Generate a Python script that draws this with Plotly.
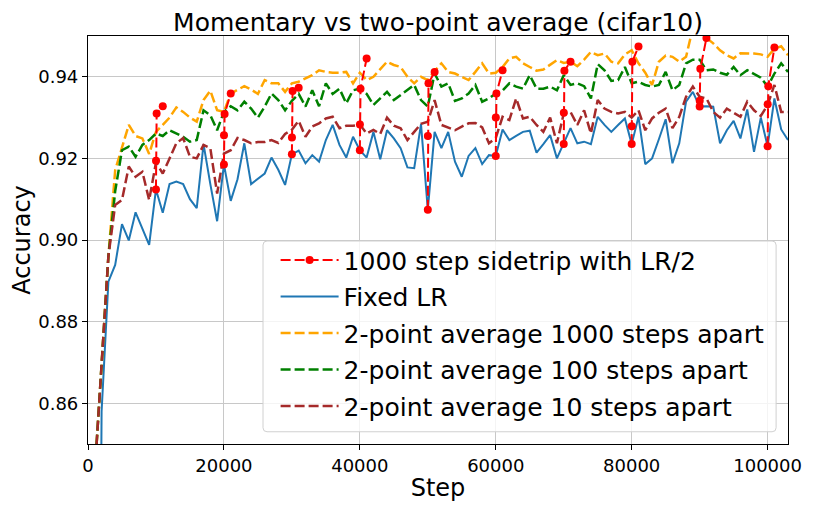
import plotly.graph_objects as go

# step index k -> step = k*1000
steps = [k * 1000 for k in range(1, 104)]

fixed_lr = [
    0.600, 0.858, 0.8898, 0.8939, 0.9039, 0.8999, 0.9068, 0.9028, 0.8988, 0.9124,
    0.9067, 0.9137, 0.9143, 0.9137, 0.9100, 0.9078, 0.9235, 0.9137, 0.9046, 0.9185,
    0.9096, 0.9149, 0.9237, 0.9137, 0.9150, 0.9163, 0.9202, 0.9172, 0.9135, 0.9210,
    0.9219, 0.9188, 0.9208, 0.9192, 0.9245, 0.9282, 0.9233, 0.9202, 0.9253, 0.9220,
    0.9202, 0.9265, 0.9198, 0.9269, 0.9249, 0.9225, 0.9178, 0.9176, 0.9284, 0.9074,
    0.9265, 0.9225, 0.9265, 0.9192, 0.9155, 0.9206, 0.9225, 0.9186, 0.9208, 0.9206,
    0.9271, 0.9245, 0.9255, 0.9265, 0.9268, 0.9214, 0.9235, 0.9257, 0.9200, 0.9235,
    0.9274, 0.9237, 0.9241, 0.9235, 0.9302, 0.9282, 0.9265, 0.9282, 0.9298, 0.9235,
    0.9302, 0.9186, 0.9200, 0.9247, 0.9296, 0.9188, 0.9237, 0.9339, 0.9363, 0.9327,
    0.9328, 0.9327, 0.9237, 0.9269, 0.9292, 0.9249, 0.9320, 0.9216, 0.9300, 0.9230,
    0.9347, 0.9271, 0.9245,
]

avg_1000 = [
    0.843, 0.870, 0.896, 0.9171, 0.9229, 0.9282, 0.9255, 0.9249, 0.9211, 0.9265,
    0.9282, 0.9300, 0.9325, 0.9314, 0.9300, 0.9290, 0.9343, 0.9366, 0.9318, 0.9314,
    0.9359, 0.9367, 0.9377, 0.9369, 0.9358, 0.9392, 0.9384, 0.9384, 0.9363, 0.9384,
    0.9388, 0.9396, 0.9404, 0.9416, 0.9412, 0.9410, 0.9410, 0.9412, 0.9384, 0.9410,
    0.9392, 0.9400, 0.9418, 0.9437, 0.9429, 0.9424, 0.9400, 0.9384, 0.9400, 0.9392,
    0.9414, 0.9433, 0.9412, 0.9408, 0.9400, 0.9392, 0.9412, 0.9433, 0.9408, 0.9410,
    0.9424, 0.9445, 0.9449, 0.9433, 0.9424, 0.9415, 0.9418, 0.9429, 0.9441, 0.9434,
    0.9437, 0.9426, 0.9442, 0.9461, 0.9453, 0.9457, 0.9437, 0.9433, 0.9455, 0.9465,
    0.9433, 0.9410, 0.9380, 0.9437, 0.9452, 0.9449, 0.9437, 0.9449, 0.9520, 0.9525,
    0.9495, 0.9482, 0.9465, 0.9453, 0.9445, 0.9458, 0.9458, 0.9457, 0.9455, 0.9449,
    0.9469, 0.9475, 0.9453,
]

avg_100 = [
    0.843, 0.870, 0.896, 0.9120, 0.9220, 0.9229, 0.9204, 0.9233, 0.9245, 0.9261,
    0.9255, 0.9269, 0.9261, 0.9253, 0.9241, 0.9245, 0.9318, 0.9306, 0.9269, 0.9314,
    0.9328, 0.9318, 0.9339, 0.9322, 0.9300, 0.9327, 0.9359, 0.9343, 0.9318, 0.9341,
    0.9358, 0.9327, 0.9367, 0.9328, 0.9384, 0.9358, 0.9371, 0.9335, 0.9367, 0.9371,
    0.9358, 0.9331, 0.9347, 0.9363, 0.9343, 0.9355, 0.9367, 0.9380, 0.9343, 0.9327,
    0.9408, 0.9376, 0.9384, 0.9341, 0.9347, 0.9359, 0.9380, 0.9339, 0.9347, 0.9359,
    0.9366, 0.9384, 0.9376, 0.9371, 0.9404, 0.9371, 0.9371, 0.9376, 0.9367, 0.9404,
    0.9380, 0.9384, 0.9377, 0.9347, 0.9431, 0.9416, 0.9390, 0.9392, 0.9424, 0.9384,
    0.9388, 0.9380, 0.9376, 0.9380, 0.9412, 0.9367, 0.9380, 0.9433, 0.9442, 0.9442,
    0.9416, 0.9418, 0.9410, 0.9405, 0.9424, 0.9404, 0.9416, 0.9408, 0.9398, 0.9376,
    0.9408, 0.9433, 0.9412,
]

avg_10 = [
    0.843, 0.870, 0.896, 0.9086, 0.9098, 0.9180, 0.9155, 0.9167, 0.9098, 0.9190,
    0.9163, 0.9200, 0.9237, 0.9250, 0.9204, 0.9200, 0.9233, 0.9225, 0.9114, 0.9212,
    0.9220, 0.9250, 0.9245, 0.9237, 0.9240, 0.9240, 0.9245, 0.9238, 0.9260, 0.9270,
    0.9292, 0.9253, 0.9278, 0.9286, 0.9298, 0.9302, 0.9274, 0.9280, 0.9280, 0.9283,
    0.9261, 0.9270, 0.9260, 0.9300, 0.9280, 0.9274, 0.9245, 0.9265, 0.9285, 0.9290,
    0.9343, 0.9282, 0.9276, 0.9269, 0.9278, 0.9286, 0.9287, 0.9276, 0.9237, 0.9250,
    0.9302, 0.9294, 0.9347, 0.9298, 0.9302, 0.9282, 0.9265, 0.9300, 0.9237, 0.9310,
    0.9314, 0.9282, 0.9318, 0.9261, 0.9343, 0.9322, 0.9314, 0.9310, 0.9314, 0.9300,
    0.9318, 0.9269, 0.9298, 0.9312, 0.9322, 0.9274, 0.9302, 0.9351, 0.9376, 0.9351,
    0.9347, 0.9314, 0.9300, 0.9322, 0.9312, 0.9302, 0.9339, 0.9318, 0.9304, 0.9331,
    0.9380, 0.9314, 0.9314,
]

sidetrip_starts = [10000, 20000, 30000, 40000, 50000, 60000, 70000, 80000, 90000, 100000]
sidetrip_offsets = [0, 10, 100, 1000]
sidetrip_values = [
    [0.9124, 0.9194, 0.9310, 0.9328],
    [0.9185, 0.9257, 0.9309, 0.9359],
    [0.9210, 0.9251, 0.9365, 0.9373],
    [0.9220, 0.9283, 0.9371, 0.9445],
    [0.9074, 0.9255, 0.9384, 0.9412],
    [0.9206, 0.9300, 0.9359, 0.9416],
    [0.9235, 0.9312, 0.9415, 0.9437],
    [0.9235, 0.9279, 0.9437, 0.9474],
    [0.9327, 0.9341, 0.9420, 0.9495],
    [0.9230, 0.9333, 0.9377, 0.9472],
]

x_ticks = [0, 20000, 40000, 60000, 80000, 100000]
y_ticks = [0.86, 0.88, 0.90, 0.92, 0.94]

side_x, side_y = [], []
for s, vals in zip(sidetrip_starts, sidetrip_values):
    side_x += [s + o for o in sidetrip_offsets] + [None]
    side_y += list(vals) + [None]

FONT = "DejaVu Sans"
DASH = "10px,4px"

fig = go.Figure()
fig.add_trace(go.Scatter(x=steps, y=fixed_lr, mode="lines", name="Fixed LR",
                         line=dict(color="#1f77b4", width=2), legendrank=2, legendgroup="b"))
fig.add_trace(go.Scatter(x=steps, y=avg_1000, mode="lines", name="2-point average 1000 steps apart",
                         line=dict(color="orange", width=2.5, dash=DASH), legendrank=3, legendgroup="c"))
fig.add_trace(go.Scatter(x=steps, y=avg_100, mode="lines", name="2-point average 100 steps apart",
                         line=dict(color="green", width=2.5, dash=DASH), legendrank=4, legendgroup="d"))
fig.add_trace(go.Scatter(x=steps, y=avg_10, mode="lines", name="2-point average 10 steps apart",
                         line=dict(color="brown", width=2.5, dash=DASH), legendrank=5, legendgroup="e"))
fig.add_trace(go.Scatter(x=side_x, y=side_y, mode="lines+markers", name="1000 step sidetrip with LR/2",
                         line=dict(color="red", width=2, dash=DASH),
                         marker=dict(color="red", size=8), connectgaps=False, legendrank=1,
                         legendgroup="a"))

axis_common = dict(
    showline=True, linecolor="black", linewidth=1.2, mirror=True,
    ticks="outside", ticklen=5, tickcolor="black", automargin=False,
    showgrid=True, gridcolor="#c8c8c8", gridwidth=1, zeroline=False,
    tickfont=dict(family=FONT, size=18, color="black"),
)

# Legend frame (paper coords), rounded corners
lx0, lx1, ly0, ly1 = 0.25, 0.983, 0.03, 0.4975
rx, ry = 4 / 700, 4 / 408
frame_path = (
    f"M {lx0 + rx},{ly0} L {lx1 - rx},{ly0} Q {lx1},{ly0} {lx1},{ly0 + ry} "
    f"L {lx1},{ly1 - ry} Q {lx1},{ly1} {lx1 - rx},{ly1} "
    f"L {lx0 + rx},{ly1} Q {lx0},{ly1} {lx0},{ly1 - ry} "
    f"L {lx0},{ly0 + ry} Q {lx0},{ly0} {lx0 + rx},{ly0} Z"
)

fig.update_layout(
    width=813, height=510,
    margin=dict(l=80, r=33, t=28, b=74),
    paper_bgcolor="white", plot_bgcolor="white",
    font=dict(family=FONT, color="black"),
    title=dict(text="Momentary vs two-point average (cifar10)", x=0.5, xref="paper",
               y=1 - 14 / 510, yref="container", yanchor="middle",
               font=dict(family=FONT, size=25, color="black")),
    xaxis=dict(range=[0, 103000], tickvals=x_ticks, ticktext=[str(v) for v in x_ticks],
               title=dict(text="Step", font=dict(family=FONT, size=24), standoff=4),
               **axis_common),
    yaxis=dict(range=[0.85, 0.95], tickvals=y_ticks, ticktext=[f"{v:.2f}" for v in y_ticks],
               title=dict(text="Accuracy", font=dict(family=FONT, size=24), standoff=0),
               **axis_common),
    shapes=[dict(type="path", xref="paper", yref="paper", path=frame_path,
                 line=dict(color="#d0d0d0", width=1), fillcolor="rgba(255,255,255,0.8)",
                 layer="above")],
    legend=dict(x=0.268, xanchor="left", y=0.507, yanchor="top",
                bgcolor="rgba(0,0,0,0)", borderwidth=0,
                font=dict(family=FONT, size=25, color="black"),
                itemwidth=58, traceorder="grouped", tracegroupgap=1),
    showlegend=True,
)

fig.write_html("out.html")
